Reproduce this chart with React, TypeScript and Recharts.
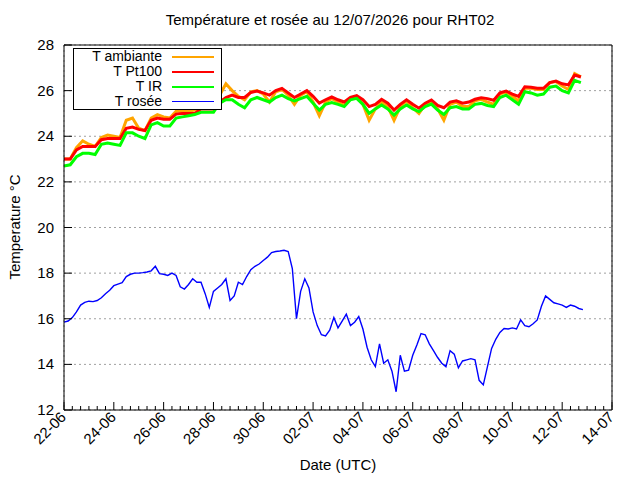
import { LineChart, Line, XAxis, YAxis, CartesianGrid } from "recharts";

// x values are days since 22-06 00:00 UTC
const majorTicks = [0, 2, 4, 6, 8, 10, 12, 14, 16, 18, 20, 22];
const tickLabels = ["22-06", "24-06", "26-06", "28-06", "30-06", "02-07", "04-07", "06-07", "08-07", "10-07", "12-07", "14-07"];
const xTicks = Array.from({ length: 67 }, (_, i) => i / 3); // every 8 h
const yTicks = [12, 14, 16, 18, 20, 22, 24, 26, 28];

// temperatures, one reading every 6 h
const tAmbiante = [
  23.0, 23.0, 23.5, 23.8, 23.65, 23.55, 23.95, 24.05, 24.0, 23.95, 24.7, 24.8,
  24.35, 24.25, 24.8, 24.95, 24.85, 24.8, 25.1, 25.1, 25.1, 25.15, 25.25, 25.25,
  25.2, 25.8, 26.3, 26.0, 25.75, 25.6, 25.95, 26.0, 25.85, 25.5, 25.95, 26.05,
  25.8, 25.4, 25.8, 25.95, 25.5, 24.9, 25.5, 25.65, 25.5, 25.35, 25.65, 25.75,
  25.4, 24.7, 25.2, 25.5, 25.3, 24.7, 25.3, 25.55, 25.25, 25.0, 25.4, 25.55,
  25.2, 24.7, 25.4, 25.5, 25.3, 25.3, 25.55, 25.62, 25.5, 25.4, 25.85, 25.95,
  25.75, 25.55, 26.1, 26.1, 26.05, 26.05, 26.35, 26.4, 26.2, 26.05, 26.75, 26.6,
];
const tPt100 = [
  23.0, 23.0, 23.4, 23.55, 23.55, 23.55, 23.85, 23.9, 23.9, 23.9, 24.35, 24.4,
  24.3, 24.25, 24.7, 24.8, 24.75, 24.75, 24.97, 25.0, 25.0, 25.0, 25.2, 25.2,
  25.2, 25.5, 25.7, 25.8, 25.7, 25.7, 25.92, 25.98, 25.9, 25.8, 26.0, 26.1,
  25.9, 25.7, 25.85, 26.0, 25.75, 25.45, 25.6, 25.72, 25.6, 25.5, 25.7, 25.78,
  25.6, 25.3, 25.4, 25.62, 25.45, 25.15, 25.4, 25.6, 25.4, 25.23, 25.45, 25.59,
  25.35, 25.25, 25.5, 25.55, 25.45, 25.5, 25.62, 25.69, 25.65, 25.58, 25.9, 25.98,
  25.85, 25.75, 26.17, 26.15, 26.1, 26.1, 26.35, 26.42, 26.3, 26.25, 26.68, 26.6,
];
const tIR = [
  22.7, 22.75, 23.1, 23.25, 23.25, 23.2, 23.65, 23.7, 23.65, 23.6, 24.15, 24.15,
  24.0, 23.9, 24.5, 24.6, 24.45, 24.45, 24.8, 24.85, 24.9, 24.95, 25.05, 25.05,
  25.05, 25.45, 25.6, 25.6, 25.4, 25.25, 25.6, 25.7, 25.6, 25.5, 25.7, 25.8,
  25.65, 25.55, 25.65, 25.75, 25.45, 25.15, 25.4, 25.48, 25.4, 25.3, 25.6, 25.66,
  25.4, 25.0, 25.2, 25.37, 25.2, 24.93, 25.2, 25.37, 25.2, 25.08, 25.3, 25.41,
  25.15, 24.95, 25.25, 25.3, 25.2, 25.2, 25.4, 25.44, 25.35, 25.3, 25.7, 25.8,
  25.6, 25.4, 25.95, 25.9, 25.8, 25.85, 26.15, 26.2, 26.0, 25.9, 26.45, 26.35,
];

// dew point, one reading every 4 h
const tRosee = [
  15.85, 15.9, 16.05, 16.3, 16.6, 16.72, 16.77, 16.75, 16.8, 16.92, 17.1, 17.25,
  17.45, 17.52, 17.58, 17.85, 17.95, 18.0, 18.0, 18.02, 18.05, 18.1, 18.3, 17.98,
  17.95, 17.9, 18.0, 17.9, 17.4, 17.3, 17.5, 17.75, 17.6, 17.6, 17.1, 16.5,
  17.2, 17.35, 17.5, 17.75, 16.8, 17.0, 17.6, 17.5, 17.85, 18.15, 18.3, 18.4,
  18.55, 18.7, 18.9, 18.95, 18.97, 19.0, 18.95, 18.2, 16.0, 17.2, 17.75, 17.35,
  16.3, 15.7, 15.3, 15.25, 15.5, 16.05, 15.6, 15.9, 16.2, 15.7, 15.85, 16.1,
  15.55, 14.75, 14.2, 13.9, 14.9, 14.05, 14.2, 13.7, 12.8, 14.4, 13.7, 13.75,
  14.4, 14.85, 15.35, 15.3, 14.9, 14.6, 14.3, 14.05, 13.9, 14.6, 14.45, 13.85,
  14.15, 14.2, 14.25, 14.2, 13.3, 13.1, 13.9, 14.7, 15.1, 15.4, 15.57, 15.55,
  15.6, 15.55, 15.95, 15.7, 15.65, 15.78, 15.95, 16.55, 17.0, 16.85, 16.7, 16.65,
  16.6, 16.5, 16.6, 16.55, 16.45, 16.4,
];

const tempRows = tAmbiante.map((v, i) => ({ d: i / 4, amb: v, pt: tPt100[i], ir: tIR[i] }));
const dewRows = tRosee.map((v, i) => ({ d: i / 6, dew: v }));

const legendItems = [
  { label: "T ambiante", color: "#ffa500", width: 2 },
  { label: "T Pt100", color: "#ff0000", width: 2 },
  { label: "T IR", color: "#00ff00", width: 2 },
  { label: "T rosée", color: "#0000ff", width: 1 },
];

const font = "'Liberation Sans', Arial, sans-serif";

// gnuplot style ticks: drawn inward, long on major, short on minor
function BottomTick({ x, y, payload }: any) {
  const i = majorTicks.indexOf(payload.value);
  const major = i >= 0;
  return (
    <g>
      <line x1={x} y1={y} x2={x} y2={y - (major ? 8 : 4)} stroke="#000" />
      {major && (
        <text x={x + 3} y={y + 8} transform={`rotate(-45 ${x + 3} ${y + 8})`} textAnchor="end" fontSize={15} fontFamily={font} fill="#000">
          {tickLabels[i]}
        </text>
      )}
    </g>
  );
}

function TopTick({ x, y, payload }: any) {
  const major = majorTicks.includes(payload.value);
  return <line x1={x} y1={y} x2={x} y2={y + (major ? 8 : 4)} stroke="#000" />;
}

function LeftTick({ x, y, payload }: any) {
  return (
    <g>
      <line x1={x} y1={y} x2={x + 8} y2={y} stroke="#000" />
      <text x={x - 10} y={y + 5} textAnchor="end" fontSize={15} fontFamily={font} fill="#000">
        {payload.value}
      </text>
    </g>
  );
}

function RightTick({ x, y }: any) {
  return <line x1={x} y1={y} x2={x - 8} y2={y} stroke="#000" />;
}

export default function App() {
  return (
    <div style={{ position: "absolute", left: 0, top: 0, width: 640, height: 480, background: "#fff", fontFamily: font }}>
      <LineChart width={640} height={480} margin={{ top: 44, right: 27, bottom: 69, left: 63 }}>
        <CartesianGrid xAxisId="grid" yAxisId="left" stroke="#a0a0a0" strokeDasharray="2 3" />
        <XAxis xAxisId="grid" type="number" dataKey="d" domain={[0, 22]} ticks={majorTicks} interval={0} hide />
        <XAxis
          xAxisId="bottom"
          type="number"
          dataKey="d"
          domain={[0, 22]}
          ticks={xTicks}
          interval={0}
          height={1}
          tickSize={0}
          tickMargin={0}
          tick={<BottomTick />}
          tickLine={false}
          axisLine={{ stroke: "#000" }}
        />
        <XAxis
          xAxisId="top"
          orientation="top"
          type="number"
          dataKey="d"
          domain={[0, 22]}
          ticks={xTicks}
          interval={0}
          height={1}
          tickSize={0}
          tickMargin={0}
          tick={<TopTick />}
          tickLine={false}
          axisLine={{ stroke: "#000" }}
        />
        <YAxis
          yAxisId="left"
          type="number"
          domain={[12, 28]}
          ticks={yTicks}
          interval={0}
          width={1}
          tickSize={0}
          tickMargin={0}
          tick={<LeftTick />}
          tickLine={false}
          axisLine={{ stroke: "#000" }}
        />
        <YAxis
          yAxisId="right"
          orientation="right"
          type="number"
          domain={[12, 28]}
          ticks={yTicks}
          interval={0}
          width={1}
          tickSize={0}
          tickMargin={0}
          tick={<RightTick />}
          tickLine={false}
          axisLine={{ stroke: "#000" }}
        />
        <Line data={tempRows} xAxisId="bottom" yAxisId="left" dataKey="amb" stroke="#ffa500" strokeWidth={3} dot={false} isAnimationActive={false} />
        <Line data={tempRows} xAxisId="bottom" yAxisId="left" dataKey="pt" stroke="#ff0000" strokeWidth={3} dot={false} isAnimationActive={false} />
        <Line data={tempRows} xAxisId="bottom" yAxisId="left" dataKey="ir" stroke="#00ff00" strokeWidth={3} dot={false} isAnimationActive={false} />
        <Line data={dewRows} xAxisId="bottom" yAxisId="left" dataKey="dew" stroke="#0000ff" strokeWidth={1.4} dot={false} isAnimationActive={false} />
      </LineChart>
      <div style={{ position: "absolute", left: 0, top: 11, width: 660, textAlign: "center", fontSize: 15 }}>
        Température et rosée au 12/07/2026 pour RHT02
      </div>
      <div style={{ position: "absolute", left: 0, top: 456, width: 676, textAlign: "center", fontSize: 15 }}>
        Date (UTC)
      </div>
      <div
        style={{
          position: "absolute",
          left: 14,
          top: 227,
          fontSize: 15,
          whiteSpace: "nowrap",
          transform: "translate(-50%, -50%) rotate(-90deg)",
        }}
      >
        Temperature °C
      </div>
      <div
        style={{
          position: "absolute",
          left: 73,
          top: 48,
          width: 147,
          height: 60,
          border: "1px solid #000",
          background: "#fff",
          fontSize: 14,
        }}
      >
        {legendItems.map((it) => (
          <div key={it.label} style={{ display: "flex", alignItems: "center", height: 15, lineHeight: "15px" }}>
            <span style={{ width: 88, textAlign: "right" }}>{it.label}</span>
            <span style={{ marginLeft: 10, width: 42, height: it.width, background: it.color }} />
          </div>
        ))}
      </div>
    </div>
  );
}
